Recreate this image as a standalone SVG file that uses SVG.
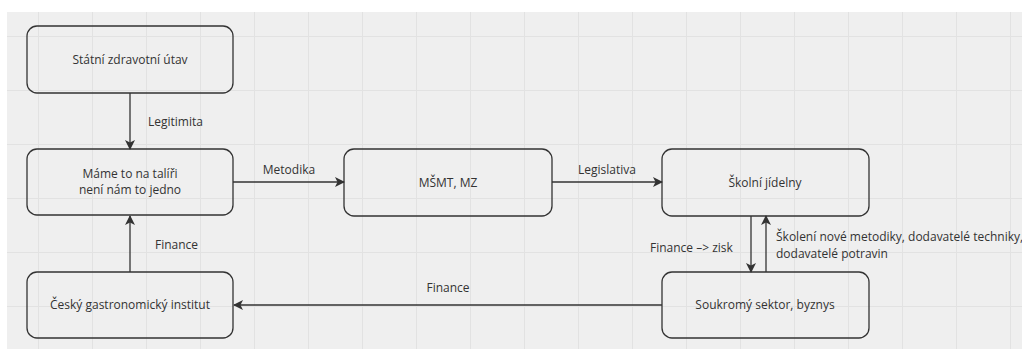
<svg xmlns="http://www.w3.org/2000/svg" width="1022" height="349" viewBox="0 0 1022 349">
<defs>
<pattern id="grid" x="38" y="36" width="54" height="54" patternUnits="userSpaceOnUse">
<path d="M0.5 0V54M0 0.5H54" fill="none" stroke="#e2e2e2" stroke-width="1"/>
</pattern>
<marker id="arr" viewBox="0 0 10 10" refX="9" refY="5" markerWidth="10" markerHeight="10" markerUnits="userSpaceOnUse" orient="auto">
<path d="M0 0L10 5L0 10L2.5 5Z" fill="#333"/>
</marker>
<style>
.n{fill:none;stroke:#333;stroke-width:1.3}
.t{font-family:"Open Sans",sans-serif;font-size:12px;fill:#333;text-anchor:middle}
.l{font-family:"Open Sans",sans-serif;font-size:12px;fill:#333}
.c{fill:none;stroke:#333;stroke-width:1.3;marker-end:url(#arr)}
</style>
</defs>
<rect width="1022" height="349" fill="#ffffff"/>
<rect x="7" y="12" width="1015" height="337" fill="#efefef"/>
<rect x="7" y="12" width="1015" height="337" fill="url(#grid)"/>
<g id="connectors">
<path class="c" d="M130 93V149"/>
<path class="c" d="M130 272V216"/>
<path class="c" d="M233 182H344"/>
<path class="c" d="M552 182H662"/>
<path class="c" d="M751 216V272"/>
<path class="c" d="M766 272V216"/>
<path class="c" d="M662 305H234"/>
<text class="l" x="148" y="126">Legitimita</text>
<text class="l" x="155" y="249">Finance</text>
<text class="t" x="289" y="174">Metodika</text>
<text class="t" x="607" y="174">Legislativa</text>
<text class="l" x="650" y="252">Finance –&gt; zisk</text>
<text class="l" x="776" y="241">Školení nové metodiky, dodavatelé techniky,</text>
<text class="l" x="776" y="258">dodavatelé potravin</text>
<text class="t" x="448" y="292">Finance</text>
</g>
<g id="n1"><rect class="n" x="27" y="26" width="206" height="67" rx="10"/><text class="t" x="130" y="64">Státní zdravotní útav</text></g>
<g id="n2"><rect class="n" x="27" y="149" width="206" height="66" rx="10"/><text class="t" x="130" y="178">Máme to na talíři</text><text class="t" x="130" y="194">není nám to jedno</text></g>
<g id="n3"><rect class="n" x="27" y="272" width="206" height="66" rx="10"/><text class="t" x="130" y="309">Český gastronomický institut</text></g>
<g id="n4"><rect class="n" x="344" y="149" width="208" height="67" rx="10"/><text class="t" x="448" y="187">MŠMT, MZ</text></g>
<g id="n5"><rect class="n" x="662" y="149" width="207" height="67" rx="10"/><text class="t" x="765" y="187">Školní jídelny</text></g>
<g id="n6"><rect class="n" x="662" y="272" width="207" height="66" rx="10"/><text class="t" x="765" y="309">Soukromý sektor, byznys</text></g>
</svg>
